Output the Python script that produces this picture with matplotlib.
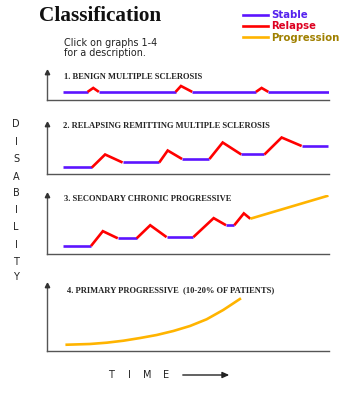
import matplotlib
matplotlib.use("Agg")
import matplotlib.pyplot as plt
from matplotlib.lines import Line2D

W, H = 356, 397

# ---------------- data ----------------
STABLE_COLOR = "#5c14ff"
RELAPSE_COLOR = "#ff0000"
PROG_COLOR = "#ffb400"

panel_titles = [
    "1. BENIGN MULTIPLE SCLEROSIS",
    "2. RELAPSING REMITTING MULTIPLE SCLEROSIS",
    "3. SECONDARY CHRONIC PROGRESSIVE",
    "4. PRIMARY PROGRESSIVE  (10-20% OF PATIENTS)",
]

# panel 1 : benign
p1_time = [5.7, 14.4, 16.4, 18.4, 45.6, 47.5, 51.5, 74.1, 76.1, 78.5, 100.0]
p1_dis = [2.9, 2.9, 4.3, 2.9, 2.9, 5.0, 2.9, 2.9, 4.3, 2.9, 2.9]
p1_state = ["S", "R", "R", "S", "R", "R", "S", "R", "R", "S"]

# panel 2 : relapsing remitting
p2_time = [5.7, 15.9, 20.6, 26.8, 39.8, 42.8, 47.9, 57.6, 62.3, 68.9, 77.1, 83.2, 90.3, 99.5]
p2_dis = [1.3, 1.3, 3.9, 2.3, 2.3, 4.7, 3.0, 3.0, 6.3, 3.9, 3.9, 7.3, 5.6, 5.6]
p2_state = ["S", "R", "R", "S", "R", "R", "S", "R", "R", "S", "R", "R", "S"]

# panel 3 : secondary chronic progressive
p3_time = [5.7, 15.6, 19.8, 25.1, 31.8, 36.6, 42.4, 51.9, 59.1, 63.5, 66.4, 69.8, 72.1, 99.8]
p3_dis = [1.4, 1.4, 3.9, 2.7, 2.7, 4.9, 2.9, 2.9, 6.1, 4.9, 4.9, 6.9, 6.0, 9.9]
p3_state = ["S", "R", "R", "S", "R", "R", "S", "R", "R", "S", "R", "R", "P"]

# panel 4 : primary progressive
p4_time = [7.0, 15.2, 21.2, 27.1, 33.0, 38.9, 44.8, 50.7, 56.6, 62.5, 68.4]
p4_dis = [0.91, 1.02, 1.22, 1.52, 1.93, 2.39, 3.0, 3.76, 4.78, 6.2, 7.87]

legend_labels = ["Stable", "Relapse", "Progression"]
legend_text_colors = ["#5522ee", "#dd0020", "#a08000"]

# ---------------- figure ----------------
fig = plt.figure(figsize=(W / 100, H / 100), dpi=100)
fig.patch.set_facecolor("white")


def fx(px):
    return px / W


def fy(py):
    return 1 - py / H


# axes boxes in pixel terms: (top/tip, baseline)
boxes = [(72, 100), (124, 174), (195, 254.3), (285, 350.7)]
AX_LEFT, AX_RIGHT = 47, 329
title_pos = [(64, 77), (63, 126), (64, 199), (67, 290)]

state_color = {"S": STABLE_COLOR, "R": RELAPSE_COLOR, "P": PROG_COLOR}


def draw_states(ax, xs, ys, states):
    # group consecutive identical states into polylines
    i = 0
    n = len(states)
    while i < n:
        j = i
        while j + 1 < n and states[j + 1] == states[i]:
            j += 1
        ax.plot(xs[i:j + 2], ys[i:j + 2], color=state_color[states[i]],
                lw=1.9, solid_joinstyle="miter", solid_capstyle="butt", zorder=3)
        i = j + 1


axes = []
for k, (top, base) in enumerate(boxes):
    ax = fig.add_axes([fx(AX_LEFT), fy(base), (AX_RIGHT - AX_LEFT) / W, (base - top) / H])
    ax.set_xlim(0, 100)
    ax.set_ylim(0, 10)
    ax.patch.set_alpha(0)
    for s in ["top", "right"]:
        ax.spines[s].set_visible(False)
    for s in ["left", "bottom"]:
        ax.spines[s].set_color("#555555")
        ax.spines[s].set_linewidth(1.0)
    ax.set_xticks([])
    ax.set_yticks([])
    ax.plot([0], [10], marker="^", color="#333333", markersize=3.2,
            clip_on=False, zorder=4)
    axes.append(ax)
    tx, ty = title_pos[k]
    fig.text(fx(tx), fy(ty), panel_titles[k], family="Liberation Serif",
             fontweight="bold", fontsize=6.1, color="#222222", va="center", ha="left")

draw_states(axes[0], p1_time, p1_dis, p1_state)
draw_states(axes[1], p2_time, p2_dis, p2_state)
draw_states(axes[2], p3_time, p3_dis, p3_state)
axes[3].plot(p4_time, p4_dis, color=PROG_COLOR, lw=1.9, zorder=3)

# headline
fig.text(fx(39), fy(16), "Classification", family="Liberation Serif",
         fontweight="bold", fontsize=15.3, color="#111111", va="center", ha="left")
fig.text(fx(64), fy(48), "Click on graphs 1-4\nfor a description.",
         family="DejaVu Sans", fontsize=6.9, color="#222222", va="center",
         ha="left", linespacing=1.05)

# legend
handles = [Line2D([], [], color=c, lw=1.9) for c in (STABLE_COLOR, RELAPSE_COLOR, PROG_COLOR)]
leg = fig.legend(handles, legend_labels, loc="upper left",
                 bbox_to_anchor=(fx(236), fy(3)), frameon=False,
                 prop={"family": "DejaVu Sans", "weight": "bold", "size": 7.3},
                 handlelength=2.5, handletextpad=0.3, labelspacing=0.12,
                 borderpad=0.2)
for t, c in zip(leg.get_texts(), legend_text_colors):
    t.set_color(c)

# DISABILITY label
dis_letters = list("DISABILITY")
dis_y = [124, 141.7, 159.3, 176.7, 193.3, 210, 226.7, 245, 261.7, 276.7]
for ch, yy in zip(dis_letters, dis_y):
    fig.text(fx(16), fy(yy), ch, family="DejaVu Sans", fontsize=7, color="#222222",
             ha="center", va="center")

# TIME label
time_letters = list("TIME")
time_x = [110.7, 129.3, 147.7, 166]
for ch, xx in zip(time_letters, time_x):
    fig.text(fx(xx), fy(375), ch, family="DejaVu Sans", fontsize=7, color="#222222",
             ha="center", va="center")
fig.add_artist(matplotlib.patches.FancyArrowPatch(
    (fx(180), fy(375)), (fx(232), fy(375)), transform=fig.transFigure,
    arrowstyle="-|>,head_length=4,head_width=1.8", color="#222222", lw=1.0))

fig.savefig("out.png", dpi=100, facecolor="white")
